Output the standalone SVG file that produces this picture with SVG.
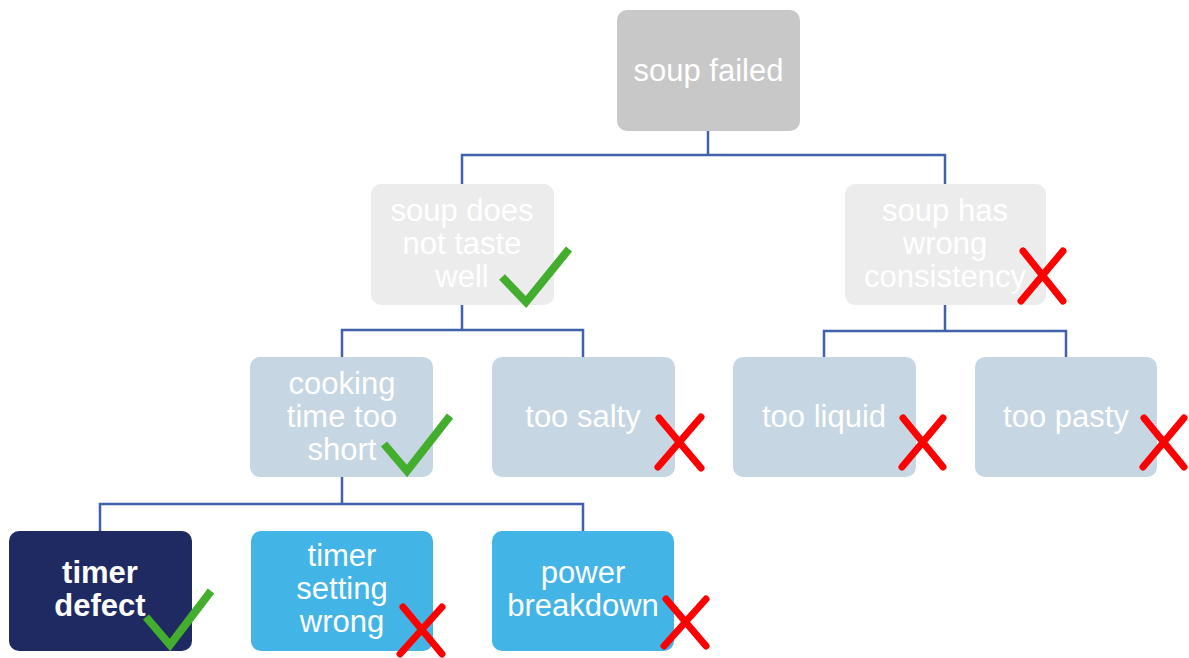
<svg xmlns="http://www.w3.org/2000/svg" width="1189" height="658" viewBox="0 0 1189 658">
<defs>
<style>
.t{font-family:"Liberation Sans",Arial,sans-serif;font-size:31px;fill:#ffffff;text-anchor:middle}
.b{font-weight:bold}
.c{fill:none;stroke:#3f62aa;stroke-width:2.5}
.ok{fill:none;stroke:#43ad2d;stroke-width:8;stroke-linejoin:miter;stroke-linecap:butt}
.no{fill:none;stroke:#ff0000;stroke-width:7;stroke-linecap:round}
.g1{fill:#c8c8c8}.g2{fill:#ececec}.g3{fill:#c6d6e3}.g4{fill:#1f2a63}.g5{fill:#42b4e6}
</style>
</defs>
<rect width="1189" height="658" fill="#ffffff"/>
<g id="connectors">
<path class="c" d="M708 131V155M462 184V155H945V184"/>
<path class="c" d="M462 304V330M342 357V330H583V357"/>
<path class="c" d="M945 304V331M824 357V331H1066V357"/>
<path class="c" d="M342 477V504M100 531V504H583V531"/>
</g>
<g id="n-root"><rect class="g1" x="617" y="10" width="183" height="121" rx="10"/><text class="t" x="708.5" y="81">soup failed</text></g>
<g id="n-taste"><rect class="g2" x="371" y="184" width="183" height="121" rx="10"/><text class="t" x="462" y="221">soup does</text><text class="t" x="462" y="254">not taste</text><text class="t" x="462" y="287">well</text><polyline class="ok" points="502,277 526,302 569,249"/></g>
<g id="n-consistency"><rect class="g2" x="845" y="184" width="201" height="121" rx="10"/><text class="t" x="945" y="221">soup has</text><text class="t" x="945" y="254">wrong</text><text class="t" x="945" y="287">consistency</text><path class="no" d="M1023 251L1063 301M1063 251L1021 301"/></g>
<g id="n-cooking"><rect class="g3" x="250" y="357" width="183" height="120" rx="10"/><text class="t" x="342" y="394">cooking</text><text class="t" x="342" y="427">time too</text><text class="t" x="342" y="460">short</text><polyline class="ok" points="384,444 407,471 450,416"/></g>
<g id="n-salty"><rect class="g3" x="492" y="357" width="183" height="120" rx="10"/><text class="t" x="583" y="427">too salty</text><path class="no" d="M659 418L701 468M701 417L658 467"/></g>
<g id="n-liquid"><rect class="g3" x="733" y="357" width="183" height="120" rx="10"/><text class="t" x="824" y="427">too liquid</text><path class="no" d="M903 418L943 467M943 418L902 467"/></g>
<g id="n-pasty"><rect class="g3" x="975" y="357" width="182" height="120" rx="10"/><text class="t" x="1066" y="427">too pasty</text><path class="no" d="M1144 418L1184 467M1184 418L1143 467"/></g>
<g id="n-timer-defect"><rect class="g4" x="9" y="531" width="183" height="120" rx="10"/><text class="t b" x="100" y="583">timer</text><text class="t b" x="100" y="616">defect</text><polyline class="ok" points="146,617 170,645 211,591"/></g>
<g id="n-timer-setting"><rect class="g5" x="251" y="531" width="182" height="120" rx="10"/><text class="t" x="342" y="566">timer</text><text class="t" x="342" y="599">setting</text><text class="t" x="342" y="632">wrong</text><path class="no" d="M403 607L442 654M442 607L400 654"/></g>
<g id="n-power"><rect class="g5" x="492" y="531" width="182" height="120" rx="10"/><text class="t" x="583" y="583">power</text><text class="t" x="583" y="616">breakdown</text><path class="no" d="M666 599L706 646M706 599L664 646"/></g>
</svg>
